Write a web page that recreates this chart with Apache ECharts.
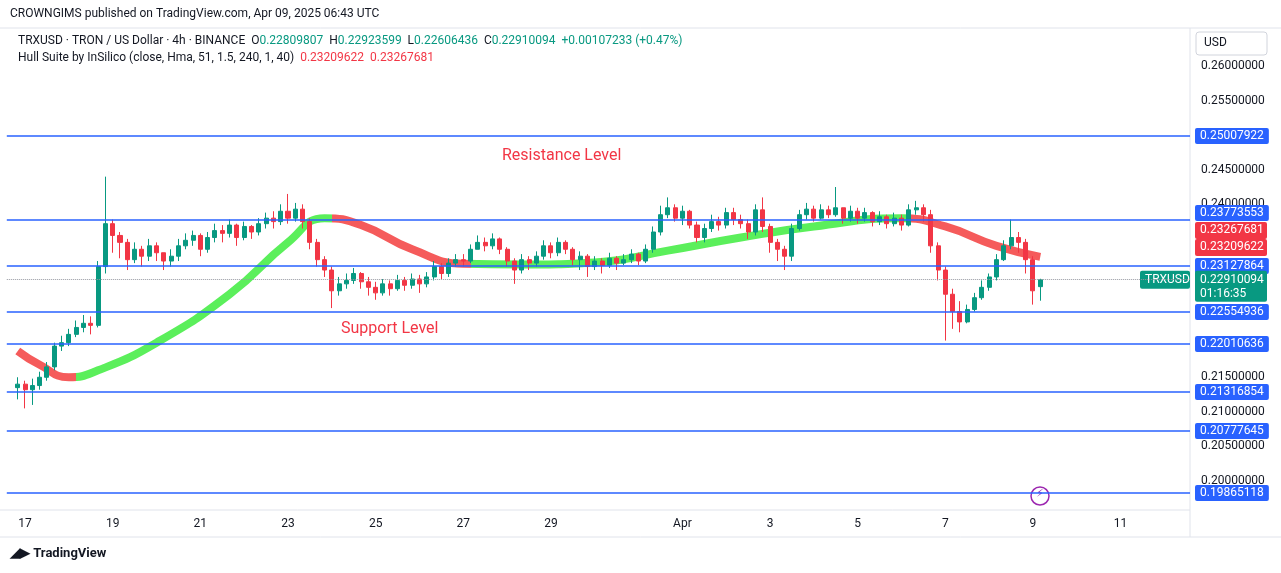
<!DOCTYPE html>
<html><head><meta charset="utf-8">
<script src="https://cdn.jsdelivr.net/npm/echarts@6/dist/echarts.min.js"></script>
<style>html,body{margin:0;padding:0;background:#fff}#c{width:1281px;height:573px}</style>
</head><body><div id="c"></div>
<script>
// 4h candles starting Mar 16 16:00 (index 0 empty), last candle Apr 9 04:00
var closes = [null,
  0.2140, 0.2132, 0.2138, 0.2150, 0.2165, 0.2195, 0.2200, 0.2212, 0.2222, 0.2228,
  0.2225, 0.2310, 0.2372, 0.2355, 0.2345, 0.2320, 0.2335, 0.2325, 0.2340, 0.2330,
  0.2318, 0.2325, 0.2340, 0.2348, 0.2355, 0.2335, 0.2352, 0.2362, 0.2358, 0.2370,
  0.2352, 0.2368, 0.2360, 0.2372, 0.2380, 0.2375, 0.2390, 0.2380, 0.2393, 0.2375,
  0.2345, 0.2320, 0.2305, 0.2275, 0.2285, 0.2290, 0.2300, 0.2288, 0.2280, 0.2272,
  0.2285, 0.2278, 0.2290, 0.2283, 0.2292, 0.2285, 0.2295, 0.2310, 0.2300, 0.2315,
  0.2320, 0.2318, 0.2335, 0.2345, 0.2340, 0.2350, 0.2335, 0.2318, 0.2305, 0.2320,
  0.2315, 0.2325, 0.2340, 0.2330, 0.2345, 0.2335, 0.2320, 0.2325, 0.2310, 0.2318,
  0.2312, 0.2322, 0.2315, 0.2320, 0.2328, 0.2318, 0.2335, 0.2360, 0.2385, 0.2395,
  0.2380, 0.2390, 0.2370, 0.2352, 0.2365, 0.2375, 0.2370, 0.2388, 0.2378, 0.2372,
  0.2360, 0.2392, 0.2368, 0.2345, 0.2335, 0.2325, 0.2365, 0.2385, 0.2393, 0.2380,
  0.2392, 0.2385, 0.2395, 0.2380, 0.2390, 0.2380, 0.2388, 0.2375, 0.2382, 0.2372,
  0.2380, 0.2370, 0.2392, 0.2395, 0.2385, 0.2340, 0.2305, 0.2270, 0.2245, 0.2230,
  0.2248, 0.2265, 0.2280, 0.2295, 0.2320, 0.2340, 0.2352, 0.2345, 0.2320, 0.2275,
  0.22910094];
var highs = [null,
  0.2150, 0.2145, 0.2148, 0.2158, 0.2172, 0.2200, 0.2210, 0.2220, 0.2232, 0.2240,
  0.2238, 0.2318, 0.2440, 0.2378, 0.2360, 0.2350, 0.2345, 0.2340, 0.2350, 0.2345,
  0.2330, 0.2335, 0.2350, 0.2358, 0.2362, 0.2358, 0.2360, 0.2372, 0.2370, 0.2378,
  0.2372, 0.2375, 0.2370, 0.2380, 0.2388, 0.2390, 0.2400, 0.2415, 0.2402, 0.2400,
  0.2380, 0.2350, 0.2325, 0.2310, 0.2295, 0.2300, 0.2308, 0.2302, 0.2295, 0.2288,
  0.2292, 0.2290, 0.2298, 0.2295, 0.2300, 0.2298, 0.2302, 0.2318, 0.2315, 0.2322,
  0.2328, 0.2328, 0.2342, 0.2355, 0.2352, 0.2358, 0.2352, 0.2338, 0.2322, 0.2328,
  0.2325, 0.2332, 0.2348, 0.2345, 0.2352, 0.2348, 0.2338, 0.2332, 0.2328, 0.2325,
  0.2322, 0.2330, 0.2325, 0.2328, 0.2335, 0.2330, 0.2342, 0.2368, 0.2398, 0.2410,
  0.2400, 0.2398, 0.2392, 0.2375, 0.2372, 0.2385, 0.2382, 0.2395, 0.2395, 0.2385,
  0.2378, 0.2400, 0.2410, 0.2372, 0.2350, 0.2340, 0.2372, 0.2392, 0.2402, 0.2398,
  0.2400, 0.2398, 0.2425, 0.2395, 0.2398, 0.2395, 0.2395, 0.2390, 0.2390, 0.2385,
  0.2388, 0.2385, 0.2400, 0.2405, 0.2400, 0.2392, 0.2345, 0.2310, 0.2278, 0.2260,
  0.2255, 0.2272, 0.2290, 0.2300, 0.2328, 0.2348, 0.2378, 0.2360, 0.2350, 0.2325,
  0.22923599];
var lows = [null,
  0.2118, 0.2105, 0.2110, 0.2132, 0.2145, 0.2160, 0.2188, 0.2195, 0.2208, 0.2215,
  0.2212, 0.2222, 0.2300, 0.2330, 0.2322, 0.2305, 0.2315, 0.2310, 0.2318, 0.2318,
  0.2305, 0.2310, 0.2318, 0.2335, 0.2340, 0.2325, 0.2330, 0.2345, 0.2345, 0.2352,
  0.2340, 0.2348, 0.2350, 0.2355, 0.2365, 0.2365, 0.2370, 0.2372, 0.2375, 0.2365,
  0.2335, 0.2310, 0.2295, 0.2250, 0.2268, 0.2278, 0.2285, 0.2278, 0.2268, 0.2262,
  0.2268, 0.2268, 0.2275, 0.2275, 0.2278, 0.2272, 0.2280, 0.2290, 0.2292, 0.2295,
  0.2310, 0.2310, 0.2315, 0.2335, 0.2332, 0.2335, 0.2328, 0.2310, 0.2285, 0.2300,
  0.2305, 0.2310, 0.2320, 0.2322, 0.2325, 0.2328, 0.2312, 0.2305, 0.2295, 0.2305,
  0.2300, 0.2308, 0.2305, 0.2312, 0.2315, 0.2312, 0.2315, 0.2330, 0.2355, 0.2380,
  0.2375, 0.2370, 0.2365, 0.2345, 0.2345, 0.2360, 0.2362, 0.2365, 0.2370, 0.2365,
  0.2350, 0.2355, 0.2360, 0.2330, 0.2318, 0.2305, 0.2318, 0.2362, 0.2378, 0.2375,
  0.2378, 0.2380, 0.2382, 0.2372, 0.2375, 0.2372, 0.2375, 0.2368, 0.2370, 0.2365,
  0.2368, 0.2362, 0.2368, 0.2385, 0.2375, 0.2330, 0.2290, 0.2203, 0.2220, 0.2215,
  0.2228, 0.2245, 0.2262, 0.2275, 0.2290, 0.2318, 0.2335, 0.2330, 0.2300, 0.2255,
  0.22606436];
var firstOpen = 0.2135;
var lastOpen = 0.22809807;
var catCount = 162;

// Hull MA (sparse points, index / value)
var hullPts = [[1,0.2188],[4,0.2168],[8,0.2150],[12,0.2160],[20,0.2200],[30,0.2270],[38,0.2345],[43,0.2380],
  [48,0.2370],[55,0.2335],[62,0.2314],[70,0.2313],[80,0.2316],[90,0.2333],[100,0.2352],[110,0.2368],
  [122,0.2380],[128,0.2368],[135,0.2340],[141,0.2324]];

// hand-drawn horizontal levels: where they sit, and the price tag they carry
var levelPos = [0.24988, 0.23774, 0.23109, 0.22444, 0.21981, 0.21287, 0.20723, 0.19827];
var levelTags = ['0.25007922', '0.23773553', '0.23127864', '0.22554936', '0.22010636', '0.21316854', '0.20777645', '0.19865118'];
var hiddenTicks = ['0.25000000','0.23500000','0.23000000','0.22500000','0.22000000','0.19500000'];
var lastPrice = 0.22910094;

var UP = '#089981', DOWN = '#f23645', BLUE = '#2962ff', INK = '#131722';

// categories and day labels
var cats = [], dayLbl = [];
var t0 = Date.UTC(2025, 2, 16, 16);
for (var i = 0; i < catCount; i++) {
  var d = new Date(t0 + i * 4 * 3600000);
  cats.push(String(i));
  var lbl = '';
  if (d.getUTCHours() === 0) {
    var day = d.getUTCDate();
    if (d.getUTCMonth() === 3 && day === 1) lbl = 'Apr';
    else if (day % 2 === 1 && !(d.getUTCMonth() === 2 && day === 31)) lbl = String(day);
  }
  dayLbl.push(lbl);
}

var candles = [];
for (var i = 0; i < catCount; i++) {
  if (i < closes.length && closes[i] != null) {
    var o = i === 1 ? firstOpen : (i === closes.length - 1 ? lastOpen : closes[i - 1]);
    candles.push([o, closes[i], lows[i], highs[i]]);
  } else candles.push('-');
}

var chart = echarts.init(document.getElementById('c'));
var lvlLines = levelPos.map(function (v, k) {
  var l = { formatter: levelTags[k] };
  if (k === 1) l.offset = [0, -7];
  return { yAxis: v, label: l };
});
lvlLines.push({ yAxis: lastPrice, lineStyle: { color: '#9598a1', type: 'dotted', width: 1 }, label: { show: false } });

chart.setOption({
  animation: false,
  textStyle: { fontFamily: 'Roboto, "Noto Sans", sans-serif' },
  grid: { left: 6.8, right: 91, top: 30, height: 485.6 },
  xAxis: {
    type: 'category', data: cats, boundaryGap: true,
    axisLine: { show: false }, axisTick: { show: false }, splitLine: { show: false },
    axisLabel: { interval: 0, margin: 2, color: INK, fontSize: 12,
      formatter: function (v, idx) { return dayLbl[idx]; } }
  },
  yAxis: {
    type: 'value', position: 'right', min: 0.195, max: 0.2652, interval: 0.005,
    splitLine: { show: false }, axisLine: { show: false }, axisTick: { show: false },
    axisLabel: { color: INK, fontSize: 12, margin: 11,
      formatter: function (v) { var s = v.toFixed(8); return (v > 0.2605 || hiddenTicks.indexOf(s) >= 0) ? '' : s; } }
  },
  visualMap: {
    show: false, type: 'piecewise', dimension: 0, seriesIndex: 1,
    pieces: [
      { lt: 9, color: '#f55b5b' }, { gte: 9, lt: 44, color: '#5bef5b' },
      { gte: 44, lt: 63, color: '#f55b5b' }, { gte: 63, lt: 123, color: '#5bef5b' },
      { gte: 123, color: '#f55b5b' }
    ]
  },
  series: [
    {
      type: 'candlestick', data: candles, barWidth: '62%', z: 3,
      itemStyle: { color: UP, color0: DOWN, borderColor: UP, borderColor0: DOWN, borderWidth: 1 },
      markLine: {
        silent: true, symbol: 'none', animation: false, precision: 8,
        lineStyle: { color: BLUE, type: 'solid', width: 1.6 },
        label: { position: 'end', distance: 5, color: '#fff', backgroundColor: BLUE,
          padding: [2, 5], fontSize: 12, borderRadius: 2 },
        data: lvlLines
      }
    },
    {
      type: 'line', data: hullPts, smooth: true, showSymbol: false, z: 2,
      lineStyle: { width: 8, cap: 'butt' }
    }
  ]
});

var gx = function (v) { return chart.convertToPixel({ gridIndex: 0 }, [0, v])[1]; };
var yp = gx(lastPrice);
chart.setOption({
  graphic: [
    { type: 'line', shape: { x1: 0, y1: 510, x2: 1190, y2: 510 }, style: { stroke: '#e0e3eb', lineWidth: 1 }, z: 0 },
    { type: 'line', shape: { x1: 0, y1: 537, x2: 1281, y2: 537 }, style: { stroke: '#e0e3eb', lineWidth: 1 }, z: 0 },
    { type: 'line', shape: { x1: 1190, y1: 28, x2: 1190, y2: 537 }, style: { stroke: '#e0e3eb', lineWidth: 1 }, z: 0 },
    { type: 'line', shape: { x1: 0, y1: 28, x2: 1281, y2: 28 }, style: { stroke: '#e0e3eb', lineWidth: 1 }, z: 0 },
    { type: 'text', left: 10, top: 8, style: { text: 'CROWNGIMS published on TradingView.com, Apr 09, 2025 06:43 UTC', fill: INK, font: '12px Roboto' } },
    { type: 'text', left: 18, top: 35, style: {
      rich: { a: { fill: INK, font: '12px Roboto' }, g: { fill: UP, font: '12px Roboto' } },
      text: '{a|TRXUSD · TRON / US Dollar · 4h · BINANCE  O}{g|0.22809807}{a|  H}{g|0.22923599}{a|  L}{g|0.22606436}{a|  C}{g|0.22910094}{g|  +0.00107233 (+0.47%)}' } },
    { type: 'text', left: 18, top: 52, style: {
      rich: { a: { fill: INK, font: '12px Roboto' }, r: { fill: DOWN, font: '12px Roboto' } },
      text: '{a|Hull Suite by InSilico (close, Hma, 51, 1.5, 240, 1, 40)  }{r|0.23209622}{a|  }{r|0.23267681}' } },
    { type: 'rect', shape: { x: 1196, y: 32, width: 71, height: 23, r: 3 }, style: { fill: '#fff', stroke: '#d1d4dc' } },
    { type: 'text', left: 1204, top: 37, style: { text: 'USD', fill: INK, font: '12px Roboto' } },
    { type: 'text', left: 502, top: 148, style: { text: 'Resistance Level', fill: '#f23645', font: '16px Roboto' } },
    { type: 'text', left: 341, top: 321, style: { text: 'Support Level', fill: '#f23645', font: '16px Roboto' } },
    { type: 'rect', shape: { x: 1140, y: yp - 9, width: 50, height: 18, r: 2 }, style: { fill: UP } },
    { type: 'text', x: 1145, y: yp - 6, style: { text: 'TRXUSD', fill: '#fff', font: '12px Roboto' } },
    { type: 'rect', shape: { x: 1195, y: yp - 9, width: 72, height: 31, r: 2 }, style: { fill: UP }, z: 100 },
    { type: 'text', x: 1200, y: yp - 6, style: { text: '0.22910094', fill: '#fff', font: '12px Roboto' }, z: 101 },
    { type: 'text', x: 1200, y: yp + 8, style: { text: '01:16:35', fill: '#fff', font: '12px Roboto' }, z: 101 },
    { type: 'rect', shape: { x: 1195, y: 222, width: 72, height: 17, r: 2 }, style: { fill: DOWN } },
    { type: 'text', x: 1200, y: 224, style: { text: '0.23267681', fill: '#fff', font: '12px Roboto' } },
    { type: 'rect', shape: { x: 1195, y: 239, width: 72, height: 17, r: 2 }, style: { fill: DOWN } },
    { type: 'text', x: 1200, y: 241, style: { text: '0.23209622', fill: '#fff', font: '12px Roboto' } },
    { type: 'circle', shape: { cx: 1040, cy: 496, r: 9 }, style: { fill: '#fff', stroke: '#9c27b0', lineWidth: 1.5 } },
    { type: 'text', x: 1036, y: 489, style: { text: '⚡', fill: '#9c27b0', font: '11px "DejaVu Sans"' } },
    { type: 'text', left: 10, top: 547, style: { text: '◢▶ TradingView', fill: INK, font: 'bold 13px Roboto' } }
  ]
});
</script></body></html>
